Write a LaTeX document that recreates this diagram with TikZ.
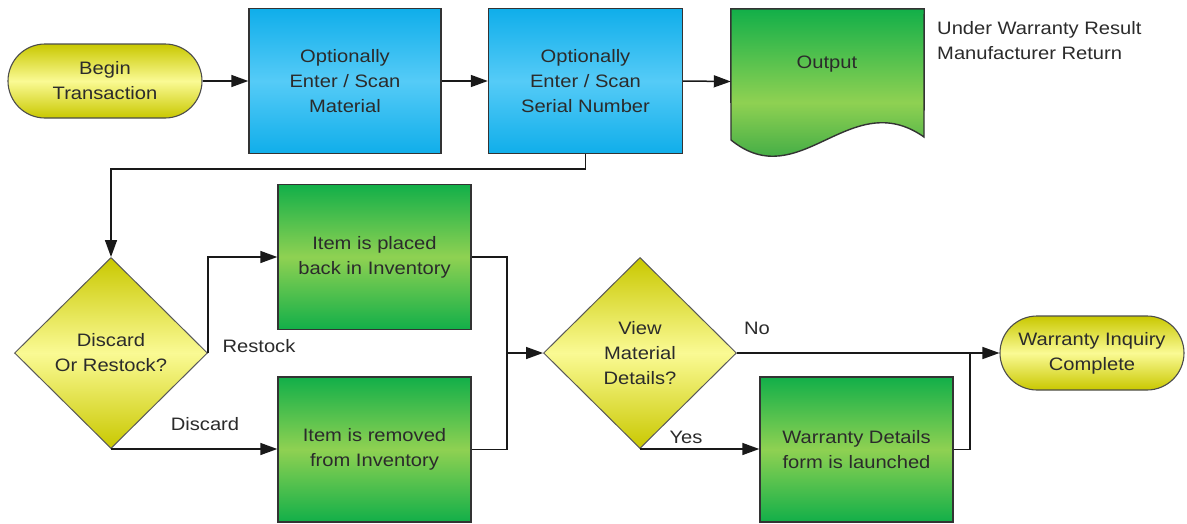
\documentclass[tikz,border=0pt]{standalone}
\usepackage{fontspec}
\setmainfont[FakeStretch=1.12]{Liberation Sans}
\usetikzlibrary{shapes.geometric,shapes.misc,arrows.meta}
\definecolor{bluetop}{HTML}{10AEEA}
\definecolor{bluemid}{HTML}{55CBF7}
\definecolor{greentop}{HTML}{12AF49}
\definecolor{greenmid}{HTML}{8FD152}
\definecolor{yelend}{HTML}{C9C800}
\definecolor{yelmid}{HTML}{FAFA94}
\definecolor{txt}{HTML}{2B2B2B}
\definecolor{edge}{HTML}{333333}
\tikzset{
  base/.style={inner sep=0pt, align=center, text=txt, line width=1.4pt, draw=edge},
  bluebox/.style={base, rectangle, minimum width=193pt, minimum height=145pt,
    top color=bluetop, bottom color=bluetop, middle color=bluemid},
  greenbox/.style={base, rectangle, minimum width=193pt, minimum height=145pt,
    top color=greentop, bottom color=greentop, middle color=greenmid},
  term/.style={base, rounded rectangle, rounded rectangle arc length=180,
    minimum width=194pt, minimum height=74pt, draw=black!70, line width=1.1pt,
    top color=yelend, bottom color=yelend, middle color=yelmid},
  decide/.style={base, diamond, minimum width=193pt, minimum height=191pt,
    draw=black!65, line width=1.0pt,
    top color=yelend, bottom color=yelend, middle color=yelmid},
  conn/.style={line width=1.5pt, draw=black!90},
  arr/.style={conn, -{Triangle[length=17pt,width=12pt]}},
  lbl/.style={text=txt, inner sep=0pt}
}
\begin{document}
\begin{tikzpicture}[x=1pt,y=-1pt,font=\fontsize{18}{25}\selectfont]
\useasboundingbox (0,0) rectangle (1187,523);
\fill[white] (0,0) rectangle (1187,523);

\node[term] (begin) at (105,81) {Begin\\Transaction};
\node[bluebox, minimum width=192pt] (b1) at (345,81) {Optionally\\Enter / Scan\\Material};
\node[bluebox, minimum width=194pt] (b2) at (585.5,81) {Optionally\\Enter / Scan\\Serial Number};

% output document
\node[rectangle, inner sep=0pt, minimum width=193pt, minimum height=145pt] (out) at (827.5,81.5) {};
\shade[top color=greentop, bottom color=greentop!85!black, middle color=greenmid, draw=edge, line width=1.4pt]
  (out.north west) -- (out.north east) -- (924,137)
  .. controls (850,85) and (800,196) .. (731,140) -- cycle;
\node[lbl] (outtext) at (827,64) {Output};

\node[lbl, align=left, anchor=north west] (note) at (937,21) {Under Warranty Result\\Manufacturer Return};

\node[decide] (d1) at (111,353) {Discard\\Or Restock?};
\node[greenbox] (b3) at (374.5,257) {Item is placed\\back in Inventory};
\node[greenbox] (b4) at (374.5,449.5) {Item is removed\\from Inventory};
\node[decide] (d2) at (640,353) {View\\Material\\Details?};
\node[greenbox] (b5) at (856.5,449.5) {Warranty Details\\form is launched};
\node[term, minimum width=184pt] (t2) at (1092,353) {Warranty Inquiry\\Complete};

\coordinate (m) at (507,353);
\coordinate (j) at (970,353);

\draw[arr] (begin.east) -- (b1.west);
\draw[arr] (b1.east) -- (b2.west);
\draw[arr] (b2.east) -- (out.west);
\draw[arr] (b2.south) -- ++(0,15) -| (d1.north);
\draw[arr] (d1.east) |- (b3.west);
\draw[arr] (d1.south) -- (b4.west |- d1.south);
\draw[conn] (b3.east) -| (m) |- (b4.east);
\draw[arr] (m) -- (d2.west);
\draw[arr] (d2.east) -- (t2.west);
\draw[arr] (d2.south) -- (b5.west |- d2.south);
\draw[conn] (b5.east) -| (j);

\node[lbl] (lrestock) at (259,346) {Restock};
\node[lbl] (ldiscard) at (205,424) {Discard};
\node[lbl] (lno) at (757,328) {No};
\node[lbl] (lyes) at (686,437) {Yes};
\end{tikzpicture}
\end{document}
